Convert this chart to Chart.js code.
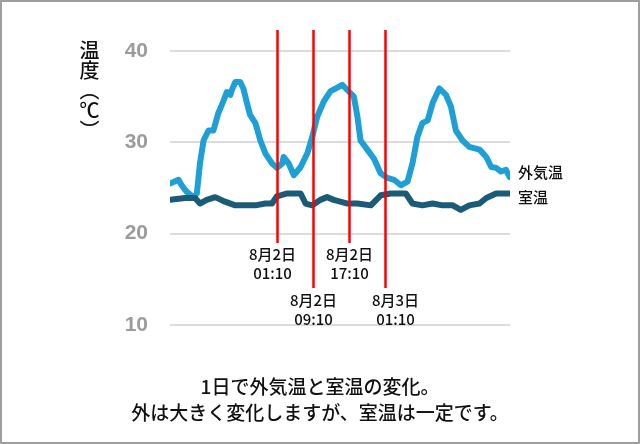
<!DOCTYPE html>
<html lang="ja">
<head>
<meta charset="utf-8">
<script src="https://cdn.jsdelivr.net/npm/chart.js@4"></script>
<style>
  html, body { margin: 0; padding: 0; background: #fff; }
  #wrap {
    position: relative; width: 640px; height: 444px;
    box-sizing: border-box; border: 2px solid #9e9e9e; overflow: hidden;
  }
  #chart { position: absolute; left: -2px; top: -2px; }
  #ytitle {
    position: absolute; left: 76px; top: 38px;
    writing-mode: vertical-rl; text-orientation: upright;
    font: 500 20px "Noto Sans CJK JP"; color: #111; line-height: 22px;
  }
  .caption {
    position: absolute; left: 0; width: 636px; text-align: center;
    font: 500 19px "Noto Sans CJK JP"; color: #111;
  }
</style>
</head>
<body>
<div id="wrap">
  <canvas id="chart" width="640" height="444"></canvas>
  <div id="ytitle">温度︵℃︶</div>
  <div class="caption" style="top:370px">1日で外気温と室温の変化。</div>
  <div class="caption" style="top:396px">外は大きく変化しますが、室温は一定です。</div>
</div>
<script>
// 時間 (8月1日 01:10 からの経過時間)
const outsideHours = [0, 1.9, 2.6, 3.7, 5.2, 6.0, 6.7, 7.5, 8.6, 9.7, 10.8, 12.0, 12.7, 13.5, 13.8,
  14.6, 15.7, 16.4, 17.2, 17.9, 19.1, 20.2, 21.3, 22.8, 23.9, 25.1, 25.4, 26.5, 27.7, 29.2,
  30.7, 31.8, 32.9, 34.4, 35.9, 37.4, 38.5, 39.7, 41.1, 41.9, 42.6, 44.1, 45.6, 47.1, 48.6,
  50.1, 51.6, 53.1, 54.2, 55.3, 56.4, 57.6, 58.7, 60.2, 61.7, 62.8, 63.9, 65.4, 66.9, 69.2,
  70.7, 71.8, 72.9, 74.0, 75.1, 75.9];
const outsideTemps = [25.5, 25.9, 25.3, 24.6, 24.0, 24.4, 27.7, 30.2, 31.3, 31.3, 33.2, 34.6, 35.5, 35.2, 35.7,
  36.6, 36.6, 35.9, 34.3, 33.0, 32.1, 30.2, 28.8, 27.7, 27.2, 27.7, 28.4, 27.7, 26.4, 27.3,
  28.8, 30.6, 32.8, 34.5, 35.6, 36.0, 36.3, 35.7, 35.0, 32.8, 30.2, 29.2, 28.2, 26.6, 26.1,
  25.9, 25.3, 25.7, 27.7, 30.6, 32.1, 32.4, 34.3, 35.9, 35.2, 33.9, 31.3, 30.2, 29.5, 29.2,
  28.4, 27.3, 27.2, 26.8, 27.0, 26.2];

const indoorHours = [0, 3.4, 5.6, 6.7, 8.2, 10.1, 12.3, 14.6, 16.8, 19.1, 21.3, 22.8, 23.9, 24.7,
  26.2, 29.2, 30.3, 31.8, 33.6, 35.1, 36.6, 39.7, 41.9, 44.9, 47.1, 49.3, 51.2, 52.7, 54.2,
  56.4, 58.7, 60.9, 63.2, 65.0, 66.9, 69.2, 70.7, 72.9, 75.9];
const indoorTemps = [23.7, 23.9, 23.9, 23.3, 23.7, 24.0, 23.5, 23.1, 23.1, 23.1, 23.3, 23.3, 24.1, 24.2,
  24.4, 24.4, 23.3, 23.1, 23.7, 24.0, 23.7, 23.3, 23.3, 23.1, 24.2, 24.4, 24.4, 24.4, 23.3,
  23.1, 23.3, 23.1, 23.1, 22.6, 23.1, 23.3, 23.9, 24.4, 24.4];

const yTicks = [10, 20, 30, 40];

// 赤い縦線 (時刻の目印)
const markerHours = [24, 32, 40, 48];
const markerDates = ['8月2日', '8月2日', '8月2日', '8月3日'];
const markerTimes = ['01:10', '09:10', '17:10', '01:10'];

// 見た目の設定
const markerStyle = [
  { end: 243, textY: 254, dx: -5 },
  { end: 288, textY: 300, dx: 0 },
  { end: 243, textY: 254, dx: 0 },
  { end: 288, textY: 300, dx: 10 }
];
const textFont = '500 15px "Noto Sans CJK JP"';

function toPoints(xs, ys) {
  return xs.map((x, i) => ({ x: x, y: ys[i] }));
}

// 赤線とラベルを描くプラグイン
const markerPlugin = {
  id: 'markers',
  afterDatasetsDraw(chart) {
    const ctx = chart.ctx;
    const xs = chart.scales.x;
    const area = chart.chartArea;
    ctx.save();
    markerHours.forEach((h, i) => {
      const px = Math.round(xs.getPixelForValue(h)) + 0.5;
      const st = markerStyle[i];
      ctx.strokeStyle = '#ff0000';
      ctx.lineWidth = 2.5;
      ctx.beginPath();
      ctx.moveTo(px, 30);
      ctx.lineTo(px, st.end);
      ctx.stroke();
      ctx.fillStyle = '#111';
      ctx.font = textFont;
      ctx.textAlign = 'center';
      ctx.textBaseline = 'middle';
      ctx.fillText(markerDates[i], px + st.dx, st.textY);
      ctx.fillText(markerTimes[i], px + st.dx, st.textY + 19);
    });
    // 系列名 (線の右端)
    chart.data.datasets.forEach((ds) => {
      const last = ds.data[ds.data.length - 1];
      const py = chart.scales.y.getPixelForValue(last.y) + ds.labelDy;
      ctx.fillStyle = '#111';
      ctx.font = textFont;
      ctx.textAlign = 'left';
      ctx.textBaseline = 'middle';
      ctx.fillText(ds.label, area.right + 8, py);
    });
    ctx.restore();
  }
};

new Chart(document.getElementById('chart'), {
  type: 'line',
  data: {
    datasets: [
      {
        label: '室温',
        data: toPoints(indoorHours, indoorTemps),
        labelDy: 4,
        borderColor: '#1a5c77',
        borderWidth: 6,
        pointRadius: 0,
        tension: 0,
        borderJoinStyle: 'round',
        borderCapStyle: 'round'
      },
      {
        label: '外気温',
        data: toPoints(outsideHours, outsideTemps),
        labelDy: -5,
        borderColor: '#1e9fd6',
        borderWidth: 6,
        pointRadius: 0,
        tension: 0,
        borderJoinStyle: 'round',
        borderCapStyle: 'round'
      }
    ]
  },
  options: {
    responsive: false,
    animation: false,
    layout: { padding: { left: 0, right: 130, top: 51, bottom: 119 } },
    plugins: { legend: { display: false }, tooltip: { enabled: false } },
    scales: {
      x: { type: 'linear', min: 0, max: 76, display: false },
      y: {
        min: 10, max: 40,
        afterFit(scale) { scale.width = 170; },
        afterBuildTicks(scale) { scale.ticks = yTicks.map(v => ({ value: v })); },
        border: { display: false },
        grid: { color: '#dcdcdc', lineWidth: 2, drawTicks: false },
        ticks: {
          padding: 22,
          color: '#9c9c9c',
          font: { family: 'Liberation Sans', size: 21, weight: 'bold' }
        }
      }
    }
  },
  plugins: [markerPlugin]
});
</script>
</body>
</html>
